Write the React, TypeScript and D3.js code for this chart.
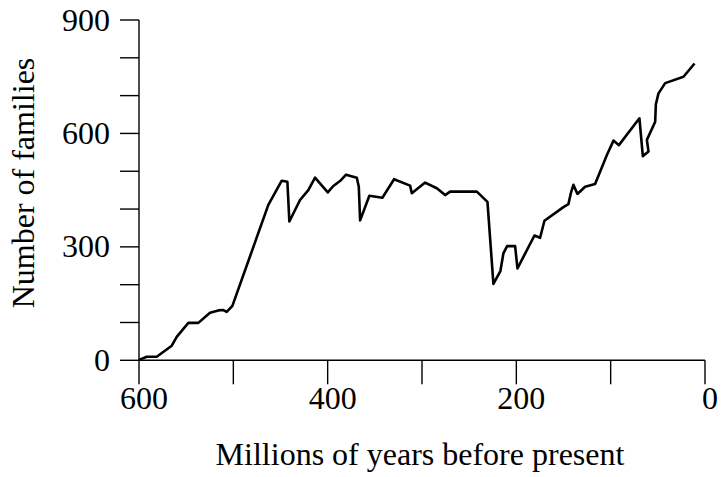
import React from "react";
import * as d3 from "d3";

const years = [600, 591.8, 581.2, 565.3, 560, 547.7, 537.1, 524.7, 515.9, 510.6, 507, 501, 462.9, 448.7, 442.7, 440.6, 429.3, 420.5, 413.4, 399.9, 394, 386.9, 380.5, 369.1, 367, 365.6, 355.8, 342, 329.6, 312.6, 310.8, 296.7, 284.3, 275.5, 270.2, 241.9, 230.6, 224.3, 216.9, 213.7, 209.8, 201.3, 198.8, 180.8, 174.8, 170.2, 150.1, 144.8, 142.2, 139.5, 135.2, 127.1, 116.5, 104, 97, 91.3, 69.5, 65.9, 59.9, 61.6, 52.8, 52.1, 49.3, 42.2, 22.8, 11.1];
const families = [1, 9.5, 9.5, 38.6, 62, 99, 99, 126, 132, 133, 128, 144, 411, 475, 472, 367, 424, 450, 483, 444, 461, 474, 491, 483, 459, 370, 435, 430, 479, 462, 442, 470, 455, 437, 446, 446, 419, 202, 236, 283, 302, 302, 243, 330, 324, 369, 405, 413, 442, 464, 440, 459, 466, 543, 581, 569, 640, 540, 552, 583, 631, 677, 706, 733, 750, 785];
const xTicks = [600, 500, 400, 300, 200, 100, 0];
const xTickLabels = ["600", "", "400", "", "200", "", "0"];
const yTicks = [0, 100, 200, 300, 400, 500, 600, 700, 800, 900];
const yTickLabels = ["0", "", "", "300", "", "", "600", "", "", "900"];
const xTitle = "Millions of years before present";
const yTitle = "Number of families";

export default function App() {
  const x = d3.scaleLinear().domain([600, 0]).range([139, 705]);
  const y = d3.scaleLinear().domain([0, 900]).range([360.3, 20]);
  const pts = years.map((yr, i) => [yr, families[i]] as [number, number]);
  const line = d3.line<[number, number]>().x(d => x(d[0])).y(d => y(d[1]));
  const font = "'Liberation Serif', 'Times New Roman', serif";
  return (
    <svg width={723} height={477} style={{ position: "absolute", left: 0, top: 0, background: "#fff" }} fontFamily={font} fontSize={32}>
      <rect width={723} height={477} fill="#fff" />
      {/* y axis */}
      <line x1={x(600)} x2={x(600)} y1={y(900)} y2={y(0)} stroke="#000" strokeWidth={1.4} />
      {yTicks.map((t, i) => (
        <g key={"y" + t}>
          <line x1={x(600) - 19} x2={x(600)} y1={y(t)} y2={y(t)} stroke="#000" strokeWidth={1.4} />
          {yTickLabels[i] && (
            <text x={x(600) - 29} y={y(t)} dy="0.33em" textAnchor="end" fill="#000">{yTickLabels[i]}</text>
          )}
        </g>
      ))}
      {/* x axis */}
      <line x1={x(600)} x2={x(0)} y1={y(0)} y2={y(0)} stroke="#000" strokeWidth={1.4} />
      {xTicks.map((t, i) => (
        <g key={"x" + t}>
          <line x1={x(t)} x2={x(t)} y1={y(0)} y2={y(0) + 24} stroke="#000" strokeWidth={1.4} />
          {xTickLabels[i] && (
            <text x={x(t) + 5} y={409} textAnchor="middle" fill="#000">{xTickLabels[i]}</text>
          )}
        </g>
      ))}
      <path d={line(pts) || ""} fill="none" stroke="#000" strokeWidth={2.6} strokeLinejoin="round" />
      <text x={420} y={465} textAnchor="middle" fill="#000">{xTitle}</text>
      <text transform="translate(34,183) rotate(-90)" textAnchor="middle" fill="#000">{yTitle}</text>
    </svg>
  );
}
